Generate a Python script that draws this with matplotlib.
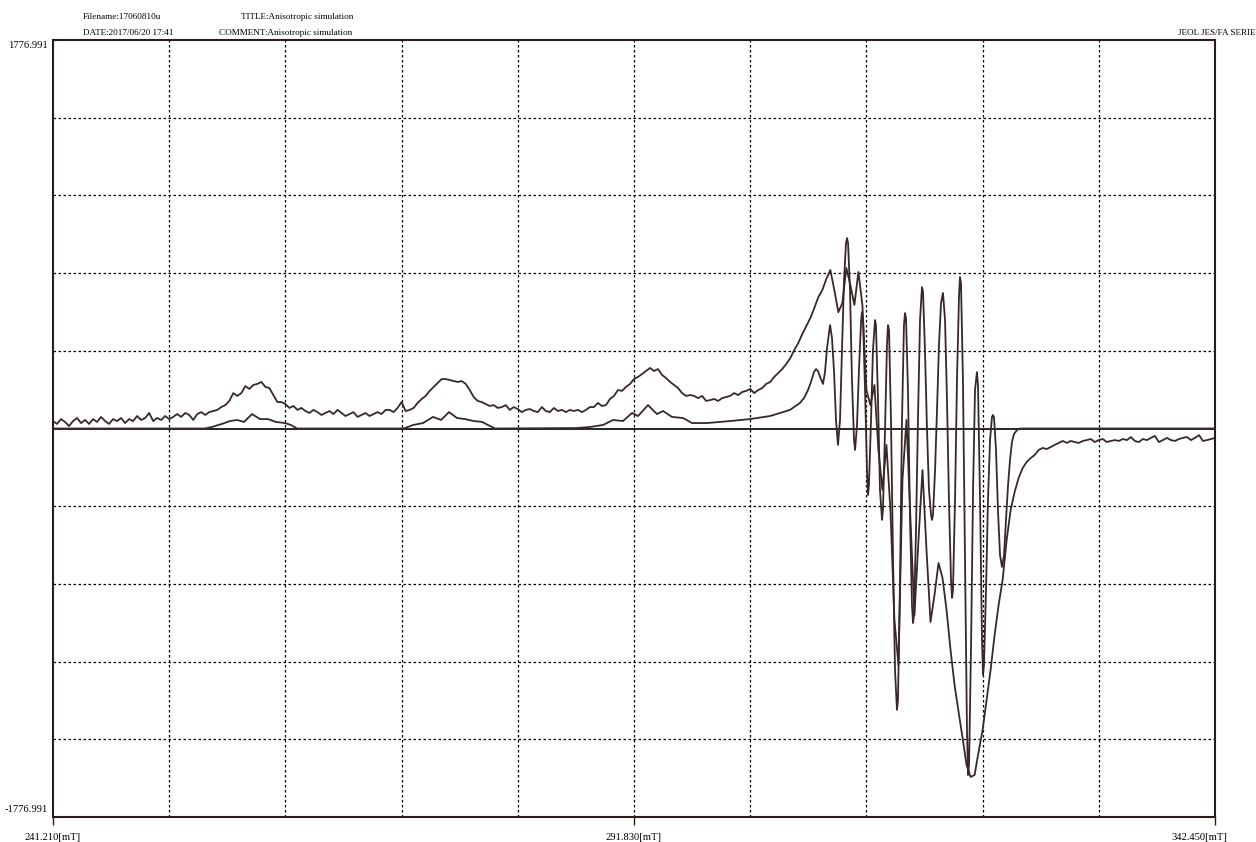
import numpy as np
import matplotlib
matplotlib.use("Agg")
import matplotlib.pyplot as plt

# ---- sweep and display range ----
FIELD_START = 241.210   # mT
FIELD_END = 342.450     # mT
FIELD_CENTER = 291.830  # mT
Y_LIMIT = 1776.991

FILE_NAME = "17060810u"
DATE = "2017/06/20 17:41"
TITLE = "Anisotropic simulation"
COMMENT = "Anisotropic simulation"
INSTRUMENT = "JEOL JES/FA SERIE"

# ---- measured spectrum (uniform field sweep) ----
measured = [
    34, 21, 43, 30, 11, 34, 48, 25, 39, 21, 43, 30, 53, 34, 21, 43, 34, 48, 25, 43,
    34, 57, 39, 48, 71, 34, 48, 39, 57, 43, 53, 66, 53, 71, 62, 39, 66, 75, 62, 75,
    80, 85, 98, 107, 126, 162, 149, 162, 194, 181, 199, 204, 213, 190, 185, 153, 121, 121, 112, 94,
    103, 85, 94, 80, 71, 85, 75, 62, 71, 80, 66, 85, 71, 57, 66, 75, 53, 62, 71, 57,
    66, 75, 66, 85, 85, 75, 94, 121, 80, 85, 94, 117, 135, 149, 172, 190, 208, 226, 226, 222,
    217, 213, 217, 204, 176, 144, 126, 121, 112, 103, 107, 94, 98, 107, 85, 98, 89, 75, 85, 89,
    80, 75, 98, 80, 75, 94, 80, 85, 75, 85, 80, 85, 75, 85, 98, 98, 117, 103, 107, 135,
    149, 176, 172, 190, 204, 226, 236, 249, 263, 277, 263, 272, 245, 231, 213, 199, 185, 162, 149, 153,
    149, 139, 149, 126, 130, 135, 126, 139, 144, 149, 162, 153, 167, 172, 181, 162, 176, 185, 204, 213,
    236, 254, 272, 295, 322, 359, 391, 432, 469, 505, 551, 601, 633, 684, 725, 633, 532, 574, 734, 656,
    565, 716, 565, 176, 107, 199, -98, -281, -75, -373, -876, -1081, -236, 39, -418, -853, -510, -190, -556, -885,
    -761, -615, -684, -830, -1013, -1173, -1296, -1415, -1539, -1594, -1585, -1479, -1379, -1242, -1104, -944, -807, -692, -510, -373,
    -290, -226, -181, -153, -135, -121, -98, -89, -94, -85, -75, -66, -57, -66, -57, -62, -66, -57, -53, -48,
    -62, -53, -48, -62, -57, -53, -57, -48, -53, -39, -57, -62, -48, -53, -43, -34, -62, -53, -43, -53,
    -57, -48, -43, -39, -53, -43, -30, -57, -53, -48, -43,
]

# ---- simulated spectrum ----
sim_field = [
    241.21, 254.45, 255.06, 255.93, 256.63, 257.24, 257.85, 258.55, 259.25, 259.94,
    260.64, 261.42, 261.95, 262.47, 271.44, 271.88, 272.58, 273.45, 274.32, 275.02,
    275.71, 276.41, 277.11, 277.89, 278.59, 279.11, 279.72, 286.86, 288.00, 289.13,
    290.00, 290.87, 291.66, 292.18, 293.05, 293.83, 294.36, 295.14, 296.10, 296.88,
    298.19, 300.19, 301.94, 303.68, 304.55, 305.42,
    306.29, 306.64, 306.99, 307.25, 307.51, 307.69, 307.86, 308.04, 308.30, 308.47,
    308.65, 308.91, 309.08, 309.26, 309.43, 309.60, 309.78, 309.95, 310.13, 310.30,
    310.39, 310.48, 310.65, 310.82, 311.00, 311.09, 311.26, 311.43, 311.61, 311.69,
    311.78, 311.96, 312.13, 312.22, 312.30, 312.48, 312.65, 312.83, 312.91, 313.09,
    313.26, 313.44, 313.52, 313.70, 313.87, 313.96, 314.05, 314.22, 314.40, 314.57,
    314.74, 314.83, 315.01, 315.18, 315.35, 315.44, 315.53, 315.70, 315.88, 316.05,
    316.14, 316.23, 316.40, 316.57, 316.75, 316.92, 317.01, 317.18, 317.36, 317.53,
    317.71, 317.79, 317.88, 318.06, 318.23, 318.40, 318.58, 318.75, 318.93, 319.10,
    319.27, 319.45, 319.54, 319.62, 319.80, 319.97, 320.15, 320.23, 320.32, 320.49,
    320.67, 320.84, 320.93, 321.02, 321.19, 321.37, 321.54, 321.71, 321.80, 321.98,
    322.15, 322.24, 322.32, 322.50, 322.67, 322.85, 323.02, 323.11, 323.20, 323.37,
    323.54, 323.72, 323.89, 324.07, 324.24, 324.42, 324.59, 324.76, 324.94, 325.20,
    325.46, 342.45,
]
sim_intensity = [
    0, 0, 7, 21, 34, 39, 30, 66, 43, 43,
    30, 25, 16, 0, 0, 2, 16, 25, 53, 39,
    75, 48, 43, 34, 30, 16, 0, 2, 7, 16,
    39, 34, 71, 57, 107, 66, 80, 53, 48, 25,
    25, 34, 43, 57, 71, 85,
    117, 139, 176, 213, 258, 272, 263, 236, 204, 258,
    368, 473, 414, 258, 39, -75, 39, 359, 679, 848,
    871, 848, 633, 222, -53, -98, 16, 268, 487, 533,
    505, 176, -190, -304, -258, 39, 359, 496, 473, 130,
    -281, -418, -373, -7, 382, 473, 450, 39, -601, -1104,
    -1287, -1242, -693, 39, 473, 528, 505, 176, -418, -807,
    -890, -853, -464, 39, 496, 647, 624, 359, -7, -281,
    -396, -418, -396, -190, 85, 382, 574, 620, 496, 130,
    -327, -693, -775, -739, -327, 222, 611, 693, 665, 222,
    -601, -1379, -1585, -1539, -1013, -281, 176, 258, 199, -327,
    -967, -1127, -1082, -739, -327, -53, 53, 62, 48, -98,
    -373, -579, -633, -579, -418, -258, -144, -62, -25, -7,
    0, 0,
]

TRACE_COLOR = "#3a2828"
SERIF = ["Liberation Serif", "DejaVu Serif"]

fig = plt.figure(figsize=(12.56, 8.42), dpi=100)
ax = fig.add_axes([53 / 1256, 25 / 842, 1162 / 1256, 777 / 842])

field = np.linspace(FIELD_START, FIELD_END, len(measured))

ax.set_xlim(FIELD_START, FIELD_END)
ax.set_ylim(-Y_LIMIT, Y_LIMIT)

# dotted 10 x 10 grid, solid zero line
span_x = FIELD_END - FIELD_START
for i in range(1, 10):
    ax.axvline(FIELD_START + i * span_x / 10, color="black", lw=0.9,
               linestyle=(0, (2, 2)), zorder=1)
    yv = -Y_LIMIT + i * 2 * Y_LIMIT / 10
    if i != 5:
        ax.axhline(yv, color="black", lw=0.9, linestyle=(0, (2, 2)), zorder=1)
ax.axhline(0, color="black", lw=1.2, zorder=2)

ax.plot(field, measured, color=TRACE_COLOR, lw=1.3, zorder=3)
ax.plot(sim_field, sim_intensity, color=TRACE_COLOR, lw=1.3, zorder=3)

for sp in ax.spines.values():
    sp.set_color("#2a1a1a")
    sp.set_linewidth(1.5)

ax.set_yticks([])
ax.set_xticks([FIELD_START, FIELD_CENTER, FIELD_END])
ax.tick_params(axis="x", direction="out", length=6, width=1, pad=0,
               labelbottom=False, color="#2a1a1a")

lab_fs = 7.6
ax.annotate(f"{FIELD_START:.3f}[mT]", xy=(FIELD_START, 0), xycoords=("data", "axes fraction"),
            xytext=(0, -20), textcoords="offset pixels", ha="center", va="center",
            fontsize=lab_fs, family=SERIF)
ax.annotate(f"{FIELD_CENTER:.3f}[mT]", xy=(FIELD_CENTER, 0), xycoords=("data", "axes fraction"),
            xytext=(0, -20), textcoords="offset pixels", ha="center", va="center",
            fontsize=lab_fs, family=SERIF)
ax.annotate(f"{FIELD_END:.3f}[mT]", xy=(FIELD_END, 0), xycoords=("data", "axes fraction"),
            xytext=(12, -20), textcoords="offset pixels", ha="right", va="center",
            fontsize=lab_fs, family=SERIF)

ax.annotate(f"{Y_LIMIT:.3f}", xy=(0, Y_LIMIT), xycoords=("axes fraction", "data"),
            xytext=(-5, -5), textcoords="offset pixels", ha="right", va="center",
            fontsize=lab_fs, family=SERIF)
ax.annotate(f"{-Y_LIMIT:.3f}", xy=(0, -Y_LIMIT), xycoords=("axes fraction", "data"),
            xytext=(-5, 7), textcoords="offset pixels", ha="right", va="center",
            fontsize=lab_fs, family=SERIF)

# header block
hdr_fs = 6.6
fig.text(83 / 1256, 1 - 17 / 842, f"Filename:{FILE_NAME}", fontsize=hdr_fs, family=SERIF,
         ha="left", va="center")
fig.text(241 / 1256, 1 - 17 / 842, f"TITLE:{TITLE}", fontsize=hdr_fs, family=SERIF,
         ha="left", va="center")
fig.text(83 / 1256, 1 - 33 / 842, f"DATE:{DATE}", fontsize=hdr_fs, family=SERIF,
         ha="left", va="center")
fig.text(219 / 1256, 1 - 33 / 842, f"COMMENT:{COMMENT}", fontsize=hdr_fs, family=SERIF,
         ha="left", va="center")
fig.text(1178 / 1256, 1 - 33 / 842, INSTRUMENT, fontsize=hdr_fs, family=SERIF,
         ha="left", va="center")

fig.savefig("out.png", dpi=100, facecolor="white")
